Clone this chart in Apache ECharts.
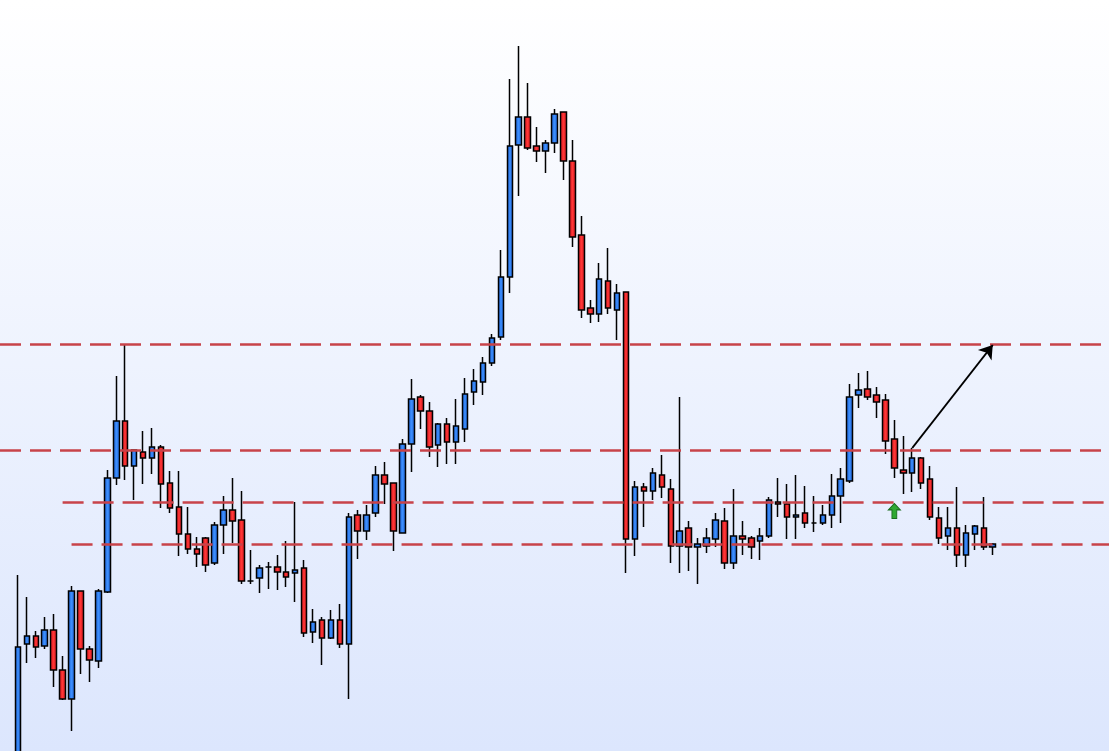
<!DOCTYPE html>
<html>
<head>
<meta charset="utf-8">
<title>Candles</title>
<script src="https://cdn.jsdelivr.net/npm/echarts@6/dist/echarts.min.js"></script>
<style>
    html, body { margin: 0; padding: 0; }
    #chart { width: 1109px; height: 751px; }
</style>
</head>
<body>
<div id="chart"></div>
<script>
// price per bar (unitless price scale)
const opens = [
    -29, 107, 115, 105, 121, 81, 52, 160, 102, 90,
    159, 273, 330, 285, 299, 293, 304, 268, 244, 217,
    202, 213, 188, 226, 241, 231, 170, 173, 184, 184,
    179, 178, 183, 119, 131, 113, 131, 107, 236, 220,
    238, 276, 268, 218, 307, 354, 340, 306, 327, 309,
    322, 359, 369, 388, 414, 474, 606, 634, 605, 600,
    608, 639, 590, 516, 443, 437, 470, 441, 459, 212,
    264, 260, 276, 262, 205, 223, 204, 205, 212, 230,
    188, 215, 213, 210, 215, 249, 247, 234, 238, 228,
    228, 236, 255, 270, 356, 362, 356, 351, 312, 281,
    278, 293, 272, 233, 215, 223, 196, 217, 223, 204
];
const closes = [
    104, 115, 104, 121, 81, 52, 160, 102, 91, 160,
    273, 330, 285, 301, 293, 304, 267, 243, 217, 202,
    197, 186, 226, 241, 230, 170, 170, 183, 184, 179,
    174, 181, 118, 129, 113, 131, 107, 234, 220, 236,
    276, 267, 220, 307, 352, 340, 304, 327, 309, 325,
    357, 370, 388, 413, 474, 605, 634, 603, 600, 608,
    637, 590, 514, 441, 437, 472, 443, 458, 212, 264,
    260, 278, 264, 205, 220, 204, 207, 213, 231, 188,
    215, 212, 204, 215, 251, 247, 234, 236, 228, 228,
    236, 255, 272, 354, 361, 354, 349, 310, 283, 278,
    293, 268, 234, 213, 223, 196, 218, 225, 204, 207
];
const lows = [
    -40, 88, 93, 102, 64, 51, 20, 77, 69, 83,
    158, 266, 271, 251, 267, 277, 243, 238, 195, 197,
    184, 179, 186, 197, 208, 167, 167, 158, 162, 161,
    164, 149, 114, 108, 86, 112, 103, 52, 192, 211,
    234, 247, 200, 218, 279, 322, 294, 284, 287, 287,
    309, 346, 356, 385, 411, 458, 555, 601, 589, 578,
    598, 571, 504, 433, 428, 429, 437, 411, 178, 195,
    224, 251, 253, 188, 178, 180, 167, 198, 204, 182,
    182, 196, 192, 191, 213, 234, 212, 212, 223, 219,
    226, 223, 228, 268, 343, 351, 333, 297, 273, 257,
    259, 262, 231, 207, 201, 184, 184, 201, 201, 196
];
const highs = [
    176, 154, 120, 134, 137, 95, 165, 160, 105, 162,
    281, 375, 407, 301, 320, 323, 306, 280, 280, 244,
    214, 214, 229, 255, 273, 260, 201, 186, 189, 196,
    210, 249, 191, 142, 134, 141, 147, 238, 241, 246,
    285, 289, 268, 312, 372, 356, 349, 328, 333, 352,
    373, 382, 394, 417, 501, 672, 705, 668, 624, 611,
    642, 639, 611, 535, 451, 488, 503, 467, 459, 270,
    268, 283, 296, 272, 354, 230, 213, 223, 238, 243,
    262, 230, 215, 223, 254, 273, 267, 276, 265, 255,
    246, 277, 283, 367, 378, 380, 364, 357, 331, 315,
    303, 294, 285, 244, 244, 264, 226, 226, 254, 208
];
const bars = opens.map((v, i) => 'K' + (i + 1));

// horizontal levels drawn as dashed lines
const levels = [407, 301, 249, 207];
const levelStart = [null, null, 'K6', 'K7'];

// projected move and signal
const arrowFrom = ['K101', 303];
const arrowTo = ['K110', 406];
const signalAt = ['K99', 240];

const padLeft = 2;
const padRight = 13;

const leftNames = Array.from({ length: padLeft }, (v, i) => 'p' + i);
const rightNames = Array.from({ length: padRight }, (v, i) => 'q' + i);
const categories = leftNames.concat(bars, rightNames);

const candleData = leftNames.map(() => '-')
    .concat(opens.map((o, i) => [o, closes[i], lows[i], highs[i]]))
    .concat(rightNames.map(() => '-'));

const dashStyle = {
    color: '#C8434A',
    width: 2.6,
    type: [21, 9]
};

const levelLines = levels.map((v, i) => {
    if (!levelStart[i]) {
        return { yAxis: v, lineStyle: dashStyle };
    }
    return [
        { coord: [levelStart[i], v], lineStyle: dashStyle },
        { coord: [rightNames[padRight - 1], v] }
    ];
});

const upFill = new echarts.graphic.LinearGradient(0, 0, 1, 0, [
    { offset: 0, color: '#1A5BD2' },
    { offset: 0.5, color: '#3C8EFC' },
    { offset: 1, color: '#1A5BD2' }
]);
const downFill = new echarts.graphic.LinearGradient(0, 0, 1, 0, [
    { offset: 0, color: '#C8121A' },
    { offset: 0.5, color: '#FF3636' },
    { offset: 1, color: '#C8121A' }
]);

const chart = echarts.init(document.getElementById('chart'));
chart.setOption({
    animation: false,
    backgroundColor: new echarts.graphic.LinearGradient(0, 0, 0, 1, [
        { offset: 0, color: '#FFFFFF' },
        { offset: 1, color: '#DCE6FD' }
    ]),
    grid: { left: 0, right: 0, top: 0, bottom: 0 },
    xAxis: {
        type: 'category',
        data: categories,
        boundaryGap: false,
        show: false
    },
    yAxis: {
        type: 'value',
        min: 0,
        max: 751,
        show: false,
        splitLine: { show: false }
    },
    series: [{
        type: 'candlestick',
        data: candleData,
        barWidth: 6,
        clip: true,
        itemStyle: {
            color: upFill,
            color0: downFill,
            borderColor: '#000',
            borderColor0: '#000',
            borderColorDoji: '#000',
            borderWidth: 1.5
        },
        markLine: {
            silent: true,
            symbol: 'none',
            label: { show: false },
            emphasis: { disabled: true },
            data: levelLines.concat([[
                {
                    coord: arrowFrom,
                    symbol: 'none',
                    lineStyle: { color: '#000', width: 2, type: 'solid' }
                },
                { coord: arrowTo, symbol: 'arrow', symbolSize: 13 }
            ]])
        },
        markPoint: {
            silent: true,
            label: { show: false },
            data: [{
                coord: signalAt,
                symbol: 'path://M5,0 L10,6 L7,6 L7,14 L3,14 L3,6 L0,6 Z',
                symbolSize: [12, 15],
                itemStyle: { color: '#2FA832', borderColor: '#1B6E1E', borderWidth: 1 }
            }]
        }
    }]
});
</script>
</body>
</html>
